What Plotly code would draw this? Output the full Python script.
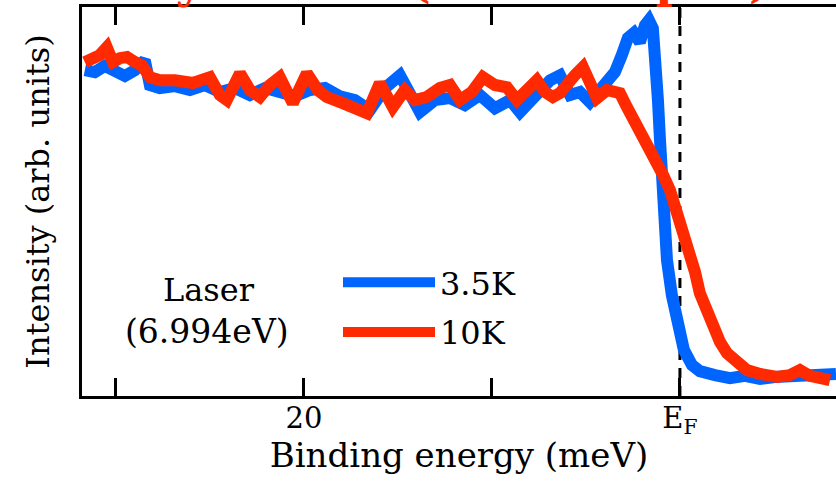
import plotly.graph_objects as go

# Binding energy (meV) and intensity (arb. units, 0-100)
energy_35K = [31.65, 31.12, 30.59, 30.05, 29.52, 28.99, 28.46, 28.19, 27.66, 26.86,
              26.06, 25.27, 24.47, 23.67, 22.87, 22.07, 21.28, 20.48, 19.68, 18.88,
              18.09, 17.29, 16.49, 15.69, 14.89, 14.36, 13.83, 13.03, 12.23, 11.44,
              10.64, 9.84, 9.04, 8.51, 7.71, 6.91, 6.38, 5.85, 5.32, 4.79,
              4.26, 3.88, 3.46, 3.09, 2.77, 2.45, 2.13, 1.86, 1.65, 1.44,
              1.33, 1.17, 1.06, 0.96, 0.85, 0.69, 0.43, 0.11, -0.21, -0.64,
              -1.06, -1.86, -2.66, -3.46, -4.26, -5.05, -5.85, -6.65, -7.45, -8.30]
intensity_35K = [84.0, 83.5, 85.1, 84.0, 82.5, 84.0, 86.6, 80.2, 79.4, 79.9,
                 78.9, 80.2, 78.4, 79.4, 77.6, 79.4, 78.4, 77.3, 78.9, 79.4,
                 77.3, 76.3, 73.7, 79.4, 82.7, 77.6, 73.2, 76.3, 76.8, 75.0,
                 77.6, 74.2, 76.3, 73.2, 77.6, 81.4, 82.7, 77.6, 78.4, 75.8,
                 78.9, 80.9, 83.5, 87.9, 92.3, 93.6, 91.2, 95.6, 96.9, 94.8,
                 89.2, 76.3, 66.0, 55.7, 44.1, 35.1, 26.0, 17.5, 11.9, 8.0,
                 6.4, 5.4, 4.6, 5.2, 4.4, 4.9, 5.2, 4.9, 5.4, 5.7]

energy_10K = [31.65, 31.28, 30.85, 30.48, 30.16, 29.79, 29.41, 28.99, 28.62, 28.19,
              27.66, 26.86, 25.90, 25.00, 24.47, 24.10, 23.40, 22.87, 22.34, 21.81,
              21.28, 20.59, 20.21, 19.84, 19.26, 18.78, 17.93, 17.29, 16.65, 15.96,
              15.27, 14.63, 14.10, 13.46, 12.77, 12.23, 11.70, 11.06, 10.48, 9.84,
              9.20, 8.67, 8.14, 7.61, 7.18, 6.76, 6.38, 6.01, 5.59, 5.16,
              4.79, 4.41, 3.88, 3.46, 3.19, 2.82, 2.50, 2.13, 1.81, 1.49,
              1.22, 0.90, 0.53, 0.27, 0.00, -0.27, -0.53, -0.80, -1.06, -1.38,
              -1.76, -2.13, -2.50, -3.03, -3.56, -4.26, -5.16, -5.85, -6.38, -6.91,
              -7.45, -7.98]
intensity_10K = [86.1, 86.6, 87.9, 89.9, 86.1, 87.1, 87.4, 86.1, 85.3, 82.2,
                 81.4, 81.4, 80.7, 82.2, 77.6, 76.3, 83.2, 78.9, 77.1, 80.2,
                 82.2, 75.5, 79.4, 83.2, 78.9, 77.1, 75.5, 74.2, 72.9, 80.7,
                 74.5, 78.9, 76.3, 77.1, 79.4, 80.2, 76.3, 78.4, 82.2, 80.2,
                 79.6, 76.3, 78.9, 81.4, 78.4, 77.1, 78.1, 80.7, 82.7, 84.8,
                 80.2, 76.8, 78.9, 78.4, 78.1, 74.5, 71.6, 69.3, 66.0, 63.4,
                 60.8, 57.0, 53.1, 49.2, 45.4, 41.0, 36.9, 32.0, 26.5, 22.2,
                 17.8, 13.9, 11.1, 8.5, 6.7, 5.7, 4.9, 5.4, 6.7, 5.2,
                 4.6, 4.1]

tick_vals = [30, 20, 10, 0]
tick_text = ["", "20", "", "E<sub>F</sub>"]

BLUE = "#0064ff"
RED = "#ff2a00"
FONT = "DejaVu Serif"

fig = go.Figure()
fig.add_trace(go.Scatter(x=energy_35K, y=intensity_35K, mode="lines", name="3.5K",
                         line=dict(color=BLUE, width=12), legendgroup="a"))
fig.add_trace(go.Scatter(x=energy_10K, y=intensity_10K, mode="lines", name="10K",
                         line=dict(color=RED, width=12), legendgroup="b"))

fig.add_shape(type="line", xref="x", yref="paper", x0=0, x1=0, y0=0, y1=1,
              line=dict(color="black", width=3, dash="10px,8px"), layer="below")

fig.update_layout(
    width=836, height=483,
    margin=dict(l=82, r=0, t=7, b=87),
    paper_bgcolor="white", plot_bgcolor="white",
    font=dict(family=FONT, size=32, color="black"),
    showlegend=True,
    legend=dict(x=(338 - 82) / 754, y=(396 - 255) / 389, xanchor="left", yanchor="top",
                bgcolor="rgba(0,0,0,0)", borderwidth=0, itemwidth=92,
                font=dict(family=FONT, size=32), tracegroupgap=5,
                traceorder="grouped"),
    xaxis=dict(range=[31.8, -8.3], tickvals=tick_vals, ticktext=tick_text,
               ticks="inside", ticklen=18, tickwidth=3, tickcolor="black",
               showline=True, linewidth=3, linecolor="black", mirror="ticks",
               showgrid=False, zeroline=False, ticklabelstandoff=-6,
               tickfont=dict(family=FONT, size=29),
               title=dict(text="Binding energy (meV)", font=dict(family=FONT, size=34), standoff=2)),
    yaxis=dict(range=[0, 100.3], showticklabels=False, ticks="",
               showline=True, linewidth=3, linecolor="black", mirror=False,
               showgrid=False, zeroline=False,
               title=dict(text="Intensity (arb. units)", font=dict(family=FONT, size=32), standoff=20)),
)

fig.add_annotation(text="Laser", xref="paper", yref="paper",
                   x=(209 - 82) / 754, y=(396 - 290) / 389, showarrow=False,
                   font=dict(family=FONT, size=32), xanchor="center", yanchor="middle")
fig.add_annotation(text="(6.994eV)", xref="paper", yref="paper",
                   x=(207 - 82) / 754, y=(396 - 331) / 389, showarrow=False,
                   font=dict(family=FONT, size=33), xanchor="center", yanchor="middle")
fig.add_annotation(text="<b>Dirty surface(non-scraped)</b>", xref="paper", yref="paper",
                   x=(422 - 82) / 754, y=(396 - 10) / 389, showarrow=False,
                   font=dict(family=FONT, size=46, color=RED), xanchor="center", yanchor="bottom")

fig.write_html("out.html")
